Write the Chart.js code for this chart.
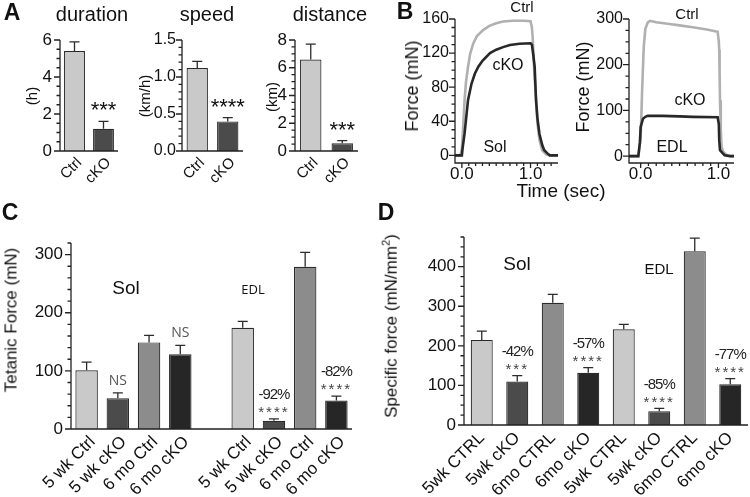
<!DOCTYPE html>
<html>
<head>
<meta charset="utf-8">
<script src="https://cdn.jsdelivr.net/npm/chart.js@4.4.1/dist/chart.umd.min.js"></script>
<style>
  body { margin: 0; background: #fff; width: 750px; height: 497px; position: relative; overflow: hidden;
         font-family: "Liberation Sans", Arial, sans-serif; color: #111; }
  canvas { position: absolute; }
  .t { position: absolute; white-space: nowrap; line-height: 1; transform: translate(-50%, -50%); }
  .v { transform: translate(-50%, -50%) rotate(-90deg); }
  .p { font-weight: bold; font-size: 23px; }
</style>
</head>
<body>
<canvas id="a1"></canvas><canvas id="a2"></canvas><canvas id="a3"></canvas>
<canvas id="b1"></canvas><canvas id="b2"></canvas>
<canvas id="c1"></canvas><canvas id="d1"></canvas>

<div class="t p" style="left:12px;top:12px">A</div>
<div class="t p" style="left:405px;top:11px">B</div>
<div class="t p" style="left:10px;top:212px">C</div>
<div class="t p" style="left:386px;top:212px">D</div>

<div class="t" style="left:92px;top:14px;font-size:20px">duration</div>
<div class="t" style="left:207px;top:14px;font-size:20px">speed</div>
<div class="t" style="left:330px;top:14px;font-size:20px">distance</div>
<div class="t v" style="left:31px;top:96px;font-size:15px">(h)</div>
<div class="t v" style="left:144px;top:96px;font-size:15px">(km/h)</div>
<div class="t v" style="left:271px;top:97px;font-size:15px">(km)</div>

<div class="t v" style="left:412px;top:86px;font-size:18px">Force (mN)</div>
<div class="t v" style="left:583px;top:87px;font-size:18px">Force (mN)</div>
<div class="t" style="left:561px;top:190px;font-size:19px">Time (sec)</div>
<div class="t" style="left:522px;top:6px;font-size:15px">Ctrl</div>
<div class="t" style="left:508px;top:65px;font-size:16px">cKO</div>
<div class="t" style="left:495px;top:147px;font-size:16px">Sol</div>
<div class="t" style="left:687px;top:13px;font-size:15px">Ctrl</div>
<div class="t" style="left:690px;top:100px;font-size:16px">cKO</div>
<div class="t" style="left:672px;top:147px;font-size:16px">EDL</div>

<div class="t v" style="left:11px;top:320px;font-size:17px">Tetanic Force (mN)</div>
<div class="t" style="left:126px;top:287px;font-size:19px">Sol</div>
<div class="t" style="left:253px;top:289px;font-size:13px;font-family:'Open Sans',sans-serif">EDL</div>

<div class="t v" style="left:390px;top:326px;font-size:17px">Specific force (mN/mm<sup style="font-size:11px">2</sup>)</div>
<div class="t" style="left:517px;top:263px;font-size:19px">Sol</div>
<div class="t" style="left:659px;top:268px;font-size:15px">EDL</div>

<script>
// ---- A: running performance ----
const runLabels = ['Ctrl', 'cKO'];
const durationMean = [5.4, 1.2];
const durationSem = [0.5, 0.4];
const speedMean = [1.12, 0.40];
const speedSem = [0.09, 0.05];
const distanceMean = [6.6, 0.55];
const distanceSem = [1.1, 0.2];
const durationStars = ['', '***'];
const speedStars = ['', '****'];
const distanceStars = ['', '***'];
const durationTicks = [0, 2, 4, 6];
const speedTicks = [0, 0.5, 1.0, 1.5];
const distanceTicks = [0, 2, 4, 6, 8];

// ---- B: force traces ----
const solCtrlT = [-0.1, -0.02, 0.0, 0.02, 0.04, 0.06, 0.09, 0.12, 0.165, 0.22, 0.31, 0.4, 0.5, 0.6, 0.74, 0.9, 1.0, 1.02, 1.03, 1.05, 1.08, 1.1, 1.13, 1.17, 1.23, 1.3, 1.4];
const solCtrlF = [0, 0, 8, 35, 65, 86, 104, 119, 131, 140, 147, 152, 155, 157, 158, 158, 157.5, 150, 140, 105, 65, 38, 18, 6, 1, 0, 0];
const solCkoT = [-0.1, 0.0, 0.01, 0.04, 0.09, 0.14, 0.19, 0.24, 0.3, 0.41, 0.5, 0.6, 0.7, 0.84, 1.0, 1.02, 1.04, 1.06, 1.08, 1.1, 1.13, 1.17, 1.2, 1.25, 1.28, 1.4];
const solCkoF = [0, 0, 8, 26, 65, 84, 96, 104, 111, 120, 124, 127, 129.5, 131, 131.5, 130, 118, 104, 65, 44, 25, 12, 6, 2, 0, 0];
const edlCtrlT = [-0.15, -0.03, 0.0, 0.02, 0.04, 0.06, 0.09, 0.12, 0.2, 0.37, 0.5, 0.67, 0.85, 0.99, 1.005, 1.01, 1.015, 1.02, 1.03, 1.04, 1.06, 1.1, 1.15, 1.2];
const edlCtrlF = [0, 0, 40, 150, 240, 278, 292, 296, 293, 289, 286, 282, 277, 272, 250, 232, 180, 122, 60, 20, 10, 3, 0, 0];
const edlCkoT = [-0.15, -0.03, -0.01, 0.0, 0.03, 0.06, 0.09, 0.28, 0.5, 0.67, 0.99, 1.005, 1.01, 1.02, 1.05, 1.08, 1.15, 1.2];
const edlCkoF = [0, 0, 30, 64, 82, 86, 88, 88, 87, 86, 85, 70, 35, 13, 7, 2, 0, 0];
const solTicks = [0, 40, 80, 120, 160];
const edlTicks = [0, 100, 200, 300];
const timeTicks = [0, 1];

// ---- C: tetanic force ----
const cLabels = ['5 wk Ctrl', '5 wk cKO', '6 mo Ctrl', '6 mo cKO', '', '5 wk Ctrl', '5 wk cKO', '6 mo Ctrl', '6 mo cKO'];
const cMean = [101, 53, 149, 128.5, null, 174, 14, 279, 49];
const cSem = [14, 9, 12, 15.5, null, 11, 3.5, 25, 7.5];
const cMarks = ['', 'NS', '', 'NS', '', '', '****', '', '****'];
const cNotes = ['', '', '', '', '', '', '-92%', '', '-82%'];
const cTicks = [0, 100, 200, 300];

// ---- D: specific force ----
const dLabels = ['5wk CTRL', '5wk cKO', '6mo CTRL', '6mo cKO', '5wk CTRL', '5wk cKO', '6mo CTRL', '6mo cKO'];
const dMean = [215, 110, 309, 132, 242, 35, 439, 103];
const dSem = [22, 15, 21, 13, 12, 7, 33, 14];
const dMarks = ['', '***', '', '****', '', '****', '', '****'];
const dNotes = ['', '-42%', '', '-57%', '', '-85%', '', '-77%'];
const dTicks = [0, 100, 200, 300, 400];

const LIGHT = '#c9c9c9', DARK = '#4b4b4b', MID = '#8c8c8c', BLACK = '#262626';

Chart.defaults.font.family = '"Liberation Sans", Arial, sans-serif';
Chart.defaults.color = '#111';
Chart.defaults.animation = false;

// GraphPad-like axes: line, major + minor ticks
const prismAxes = {
  id: 'prismAxes',
  afterDatasetsDraw(chart, args, opts) {
    const { ctx, chartArea: a, scales: { x, y } } = chart;
    const x0 = a.left;
    ctx.save();
    ctx.strokeStyle = '#222';
    ctx.lineWidth = 1.3;
    ctx.beginPath();
    ctx.moveTo(x0, a.top); ctx.lineTo(x0, a.bottom); ctx.lineTo(a.right, a.bottom);
    y.ticks.forEach(t => {
      const p = y.getPixelForValue(t.value);
      ctx.moveTo(x0 - 6, p); ctx.lineTo(x0, p);
    });
    if (opts.yMinor) {
      const n = Math.round(y.max / opts.yMinor);
      for (let i = 0; i <= n; i++) {
        const p = y.getPixelForValue(i * opts.yMinor);
        if (p < a.top - 0.5) continue;
        ctx.moveTo(x0 - 3.5, p); ctx.lineTo(x0, p);
      }
    }
    if (opts.xMinor) {
      x.ticks.forEach(t => {
        const p = x.getPixelForValue(t.value);
        ctx.moveTo(p, a.bottom); ctx.lineTo(p, a.bottom + 5);
      });
      const n = Math.floor(x.max / opts.xMinor);
      for (let i = 0; i <= n; i++) {
        const p = x.getPixelForValue(i * opts.xMinor);
        ctx.moveTo(p, a.bottom); ctx.lineTo(p, a.bottom + 3);
      }
    }
    ctx.stroke();
    ctx.restore();
  }
};

// SEM bars and significance marks
const errorBars = {
  id: 'errorBars',
  afterDatasetsDraw(chart, args, opts) {
    const { ctx, scales: { y } } = chart;
    chart.data.datasets.forEach((ds, di) => {
      if (!ds.sem) return;
      chart.getDatasetMeta(di).data.forEach((bar, i) => {
        if (ds.data[i] == null) return;
        const top = y.getPixelForValue(ds.data[i] + ds.sem[i]);
        ctx.save();
        ctx.strokeStyle = '#2b2b2b';
        ctx.lineWidth = 1.3;
        ctx.beginPath();
        ctx.moveTo(bar.x, bar.y); ctx.lineTo(bar.x, top);
        ctx.moveTo(bar.x - opts.cap, top); ctx.lineTo(bar.x + opts.cap, top);
        ctx.stroke();
        ctx.textAlign = 'center';
        ctx.textBaseline = 'middle';
        const m = ds.marks && ds.marks[i];
        if (m) {
          if (m === 'NS') {
            ctx.font = opts.nsFont; ctx.fillStyle = '#555';
            ctx.fillText(m, bar.x, top - opts.nsGap);
          } else {
            ctx.font = opts.starFont; ctx.fillStyle = opts.starColor;
            ctx.letterSpacing = opts.starSpacing;
            ctx.fillText(m, bar.x, top - opts.starGap + opts.starShift);
            ctx.letterSpacing = '0px';
          }
        }
        const note = ds.notes && ds.notes[i];
        if (note) {
          ctx.font = opts.noteFont; ctx.fillStyle = '#222';
          ctx.letterSpacing = '-1px';
          ctx.fillText(note, bar.x, top - opts.noteGap);
          ctx.letterSpacing = '0px';
        }
        ctx.restore();
      });
    });
  }
};

function place(id, box) {
  const c = document.getElementById(id);
  c.width = box.w; c.height = box.h;
  c.style.left = box.left + 'px'; c.style.top = box.top + 'px';
  return c;
}

function yScale(box, area, min, max, ticks, fmt, size, pad) {
  return {
    min: min, max: max,
    grid: { display: false, drawTicks: false },
    border: { display: false },
    ticks: { padding: pad, font: { size: size }, callback: fmt },
    afterBuildTicks: s => { s.ticks = ticks.map(v => ({ value: v })); },
    afterFit: s => { s.width = area.left - box.left; }
  };
}

function barChart(id, box, area, cfg) {
  return new Chart(place(id, box), {
    type: 'bar',
    data: {
      labels: cfg.labels,
      datasets: [{
        data: cfg.mean, sem: cfg.sem, marks: cfg.marks, notes: cfg.notes,
        backgroundColor: cfg.colors, borderColor: '#2b2b2b', borderWidth: 1.2,
        barPercentage: cfg.bar, categoryPercentage: 1
      }]
    },
    options: {
      responsive: false,
      layout: { padding: { top: area.top - box.top, right: box.left + box.w - area.right, left: 0, bottom: 0 } },
      plugins: {
        legend: { display: false }, tooltip: { enabled: false },
        prismAxes: { yMinor: cfg.minor },
        errorBars: cfg.marksStyle
      },
      scales: {
        x: {
          grid: { display: false, drawTicks: false }, border: { display: false },
          ticks: { autoSkip: false, minRotation: 45, maxRotation: 45, padding: 3, labelOffset: cfg.xShift, font: { size: cfg.xFont } },
          afterFit: s => { s.height = box.top + box.h - area.bottom; }
        },
        y: yScale(box, area, 0, cfg.max, cfg.ticks, cfg.fmt, cfg.yFont || 17, cfg.yPad || 8)
      }
    },
    plugins: [errorBars, prismAxes]
  });
}

function lineChart(id, box, area, cfg) {
  const pts = (t, f) => t.map((v, i) => ({ x: v, y: f[i] }));
  return new Chart(place(id, box), {
    type: 'line',
    data: {
      datasets: [
        { data: pts(cfg.ckoT, cfg.ckoF), borderColor: '#282828', borderWidth: 2.6, pointRadius: 0, order: 0 },
        { data: pts(cfg.ctrlT, cfg.ctrlF), borderColor: '#b0b0b0', borderWidth: 2.6, pointRadius: 0, order: 1 }
      ]
    },
    options: {
      responsive: false,
      layout: { padding: { top: area.top - box.top, right: box.left + box.w - area.right, left: 0, bottom: 0 } },
      plugins: { legend: { display: false }, tooltip: { enabled: false }, prismAxes: { yMinor: cfg.minor, xMinor: 0.1 } },
      scales: {
        x: {
          type: 'linear', min: cfg.xMin, max: cfg.xMax,
          grid: { display: false, drawTicks: false }, border: { display: false },
          ticks: { padding: 1, font: { size: 17 }, callback: v => v.toFixed(1) },
          afterBuildTicks: s => { s.ticks = timeTicks.map(v => ({ value: v })); },
          afterFit: s => { s.height = box.top + box.h - area.bottom; }
        },
        y: yScale(box, area, cfg.yMin, cfg.yMax, cfg.ticks, v => v, 16, 6)
      }
    },
    plugins: [prismAxes]
  });
}

const aStyle = { cap: 5, starFont: '22px "Liberation Sans", Arial', starColor: '#111', starSpacing: '0px', starGap: 14, starShift: 4 };
const runColors = [LIGHT, DARK];
barChart('a1', { left: 0, top: 0, w: 125, h: 190 }, { left: 60, right: 118, top: 40, bottom: 151 },
  { labels: runLabels, mean: durationMean, sem: durationSem, marks: durationStars, colors: runColors, bar: 0.72,
    max: 6, ticks: durationTicks, minor: 0.5, fmt: v => v, xFont: 15, xShift: 5, marksStyle: aStyle });
barChart('a2', { left: 125, top: 0, w: 125, h: 190 }, { left: 182, right: 243, top: 40, bottom: 151 },
  { labels: runLabels, mean: speedMean, sem: speedSem, marks: speedStars, colors: runColors, bar: 0.7,
    max: 1.5, ticks: speedTicks, minor: 0.1, fmt: v => v.toFixed(1), xFont: 15, xShift: 5, yFont: 16, yPad: 6, marksStyle: aStyle });
barChart('a3', { left: 250, top: 0, w: 130, h: 190 }, { left: 295, right: 358, top: 40, bottom: 151 },
  { labels: runLabels, mean: distanceMean, sem: distanceSem, marks: distanceStars, colors: runColors, bar: 0.68,
    max: 8, ticks: distanceTicks, minor: 0.5, fmt: v => v, xFont: 15, xShift: 5, marksStyle: aStyle });

lineChart('b1', { left: 390, top: 0, w: 180, h: 200 }, { left: 455, right: 558, top: 19, bottom: 163 },
  { ctrlT: solCtrlT, ctrlF: solCtrlF, ckoT: solCkoT, ckoF: solCkoF, xMin: -0.1, xMax: 1.4,
    yMin: -9, yMax: 160, ticks: solTicks, minor: 10 });
lineChart('b2', { left: 575, top: 0, w: 175, h: 200 }, { left: 629, right: 734, top: 19, bottom: 163 },
  { ctrlT: edlCtrlT, ctrlF: edlCtrlF, ckoT: edlCkoT, ckoF: edlCkoF, xMin: -0.15, xMax: 1.2,
    yMin: -15, yMax: 300, ticks: edlTicks, minor: 25 });

const cdStyle = { cap: 5, starFont: '15px "Liberation Sans", Arial', starColor: '#444', starSpacing: '2px', starGap: 9, starShift: 3,
  nsFont: '14px "Open Sans", sans-serif', nsGap: 12, noteFont: '15px "Liberation Sans", Arial', noteGap: 24 };
barChart('c1', { left: 0, top: 200, w: 375, h: 297 }, { left: 71, right: 352, top: 243, bottom: 429 },
  { labels: cLabels, mean: cMean, sem: cSem, marks: cMarks, notes: cNotes,
    colors: [LIGHT, DARK, MID, BLACK, LIGHT, LIGHT, DARK, MID, BLACK], bar: 0.72,
    max: 320, ticks: cTicks, minor: 20, fmt: v => v, xFont: 17, xShift: 6, marksStyle: cdStyle });
barChart('d1', { left: 375, top: 200, w: 375, h: 297 }, { left: 464, right: 748, top: 237, bottom: 425 },
  { labels: dLabels, mean: dMean, sem: dSem, marks: dMarks, notes: dNotes,
    colors: [LIGHT, DARK, MID, BLACK, LIGHT, DARK, MID, BLACK], bar: 0.62,
    max: 475, ticks: dTicks, minor: 25, fmt: v => v, xFont: 17, xShift: 0, marksStyle: cdStyle });
</script>
</body>
</html>
